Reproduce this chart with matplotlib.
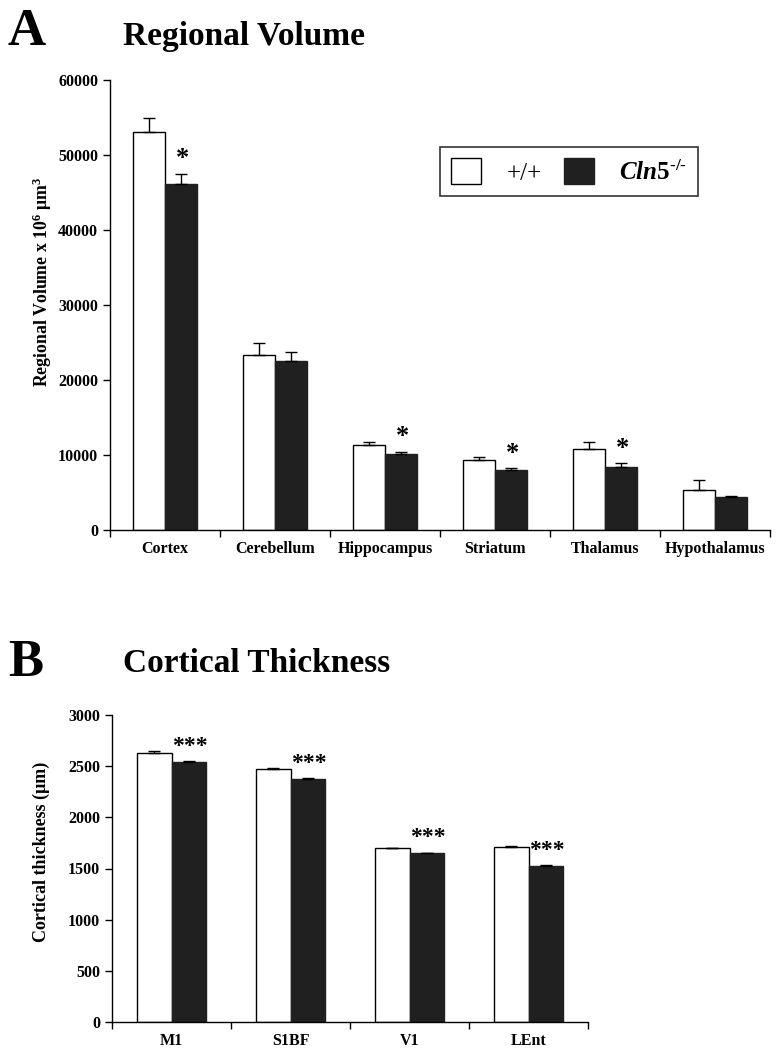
import numpy as np
import matplotlib
matplotlib.use("Agg")
from matplotlib import pyplot as plt
from matplotlib.patches import Patch

plt.rcParams['font.family'] = ['Liberation Serif', 'DejaVu Serif']
plt.rcParams['font.weight'] = 'bold'
plt.rcParams['mathtext.fontset'] = 'custom'
plt.rcParams['mathtext.rm'] = 'Liberation Serif:bold'
plt.rcParams['mathtext.it'] = 'Liberation Serif:italic:bold'
plt.rcParams['mathtext.bf'] = 'Liberation Serif:bold'

# panel A: regional volume (x 10^6 um^3)
regions = ['Cortex', 'Cerebellum', 'Hippocampus', 'Striatum', 'Thalamus', 'Hypothalamus']
vol_wt = [53000, 23300, 11330, 9330, 10800, 5330]
vol_wt_err = [1950, 1700, 440, 360, 980, 1290]
vol_ko = [46200, 22600, 10130, 7960, 8400, 4360]
vol_ko_err = [1280, 1100, 300, 260, 490, 180]
vol_sig = ['*', '', '*', '*', '*', '']

# panel B: cortical thickness (um)
areas = ['M1', 'S1BF', 'V1', 'LEnt']
thk_wt = [2632, 2476, 1698, 1712]
thk_wt_err = [12, 8, 6, 8]
thk_ko = [2538, 2375, 1649, 1525]
thk_ko_err = [8, 6, 6, 6]
thk_sig = ['***', '***', '***', '***']

WHITE = 'white'
DARK = '#202020'


def draw_panel(ax, cats, wt, wt_err, ko, ko_err, sig, ymax, ystep, star_size, star_off):
    x = np.arange(len(cats))
    w = 0.29
    zeros = np.zeros(len(cats))
    ax.bar(x - w / 2, wt, w, color=WHITE, edgecolor='black', linewidth=1.0,
           yerr=[zeros, wt_err], capsize=4,
           error_kw=dict(elinewidth=1.0, capthick=1.0, ecolor='black'), zorder=2)
    ax.bar(x + w / 2, ko, w, color=DARK, edgecolor=DARK, linewidth=1.0,
           yerr=[zeros, ko_err], capsize=4,
           error_kw=dict(elinewidth=1.0, capthick=1.0, ecolor='black'), zorder=2)
    for i, s in enumerate(sig):
        if s:
            ax.annotate(s, (x[i] + w / 2, ko[i] + ko_err[i]), xytext=(1, star_off),
                        textcoords='offset points', ha='center', va='center',
                        fontsize=star_size, fontweight='bold')

    ax.set_xlim(-0.5, len(cats) - 0.5)
    ax.set_ylim(0, ymax)
    ax.set_yticks(np.arange(0, ymax + 1, ystep))
    ax.set_xticks(x)
    ax.set_xticklabels(cats, fontsize=11.5, fontweight='bold')
    ax.set_xticks(np.arange(len(cats) + 1) - 0.5, minor=True)
    ax.tick_params(axis='x', which='major', length=0, pad=8)
    ax.tick_params(axis='x', which='minor', length=5, width=1, direction='out')
    ax.tick_params(axis='y', length=5, width=1, direction='out', labelsize=11.5)
    for lab in ax.get_yticklabels():
        lab.set_fontweight('bold')
    for side in ('top', 'right'):
        ax.spines[side].set_visible(False)
    for side in ('left', 'bottom'):
        ax.spines[side].set_linewidth(1.0)


fig = plt.figure(figsize=(7.76, 10.5), dpi=100)

axA = fig.add_axes([110 / 776, 1 - 530 / 1050, 660 / 776, 450 / 1050])
draw_panel(axA, regions, vol_wt, vol_wt_err, vol_ko, vol_ko_err, vol_sig,
           60000, 10000, 19, 11)
axA.set_ylabel('Regional Volume x 10$^{6}$ μm$^{3}$', fontsize=12.8, fontweight='bold')
axA.yaxis.set_label_coords(-0.085, 0.552)

handles = [Patch(facecolor=WHITE, edgecolor='black', linewidth=1.0),
           Patch(facecolor=DARK, edgecolor=DARK)]
leg = axA.legend(handles, ['+/+', r'$\mathit{Cln5}^{\text{-/-}}$'], ncol=2,
                 loc='upper left', bbox_to_anchor=(0.5, 0.851), borderaxespad=0,
                 frameon=True, fancybox=False, edgecolor='black',
                 handlelength=1.2, handleheight=1.2, handletextpad=1.0,
                 columnspacing=0.9, borderpad=0.45, prop=dict(size=18, weight='normal'))
leg.get_frame().set_linewidth(1.2)

axB = fig.add_axes([112 / 776, 1 - 1022 / 1050, 476 / 776, 307 / 1050])
draw_panel(axB, areas, thk_wt, thk_wt_err, thk_ko, thk_ko_err, thk_sig,
           3000, 500, 17, 11)
axB.set_ylabel('Cortical thickness (μm)', fontsize=13, fontweight='bold')
axB.yaxis.set_label_coords(-0.130, 0.554)

fig.text(8 / 776, 1 - 45 / 1050, 'A', fontsize=38, fontweight='bold')
fig.text(123 / 776, 1 - 45 / 1050, 'Regional Volume', fontsize=24, fontweight='bold')
fig.text(8 / 776, 1 - 676 / 1050, 'B', fontsize=38, fontweight='bold')
fig.text(123 / 776, 1 - 672 / 1050, 'Cortical Thickness', fontsize=24, fontweight='bold')

fig.savefig('out.png', dpi=100)
